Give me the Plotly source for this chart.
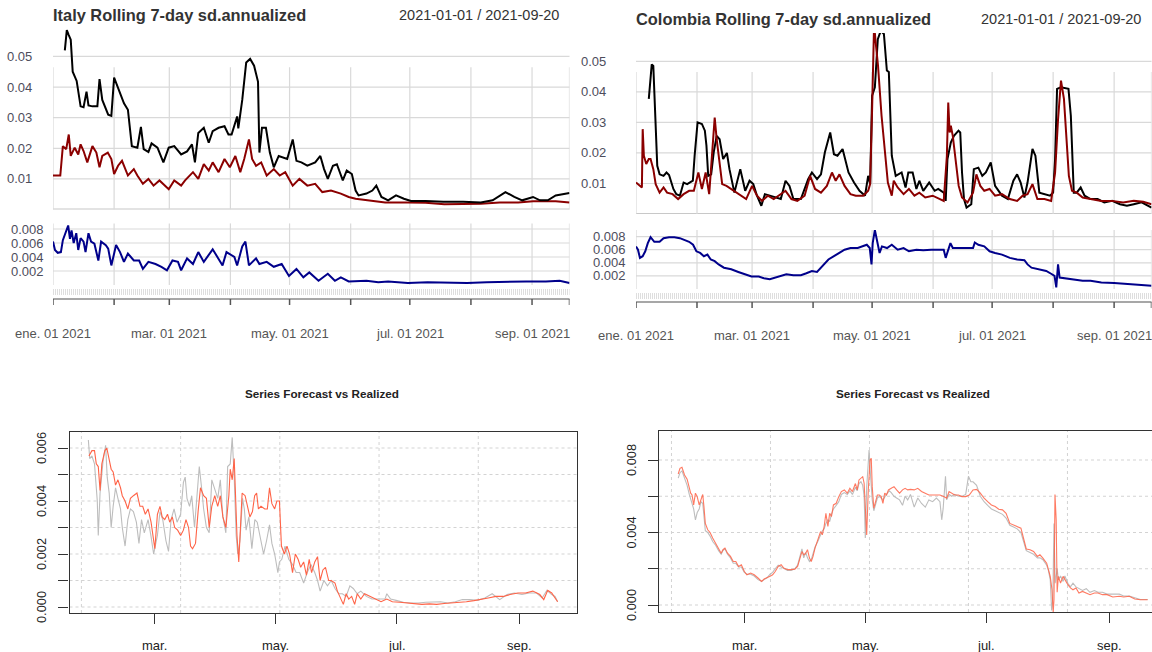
import pandas as pd
import plotly.graph_objects as go

BASE = pd.Timestamp("2021-01-01")

# ---------------- data: [day offset from 2021-01-01, value] ----------------
IT_SD_BLACK = [(6,.052),(7,.0586),(8,.057),(9,.0555),(10,.045),(12,.042),(14,.0337),(15.5,.0334),(17,.0385),(18,.034),
 (20,.0337),(22.5,.0337),(23.6,.0426),(25,.0358),(28,.031),(29.6,.0306),(31,.0431),(33,.0396),(36,.0347),(38,.0326),
 (40,.0207),(42.8,.0202),(44.6,.027),(46,.0197),(48.4,.0188),(50,.0216),(53,.0202),(56,.0154),(58.7,.0202),(61.5,.0207),
 (65,.018),(68,.019),(70.5,.0213),(72,.0154),(73.7,.025),(76.5,.0267),(79,.0218),(81,.0256),(84,.0267),(87,.0272),
 (89,.0245),(90.6,.0245),(93.4,.0304),(94,.0265),(96,.0358),(98,.048),(100,.0492),(102,.047),(104,.0417),(104.7,.0186),
 (106,.0267),(108,.0267),(110,.0186),(112,.0138),(114.5,.0175),(118.8,.0165),(121.6,.0229),(123.5,.0159),(126,.0154),(129,.0143),
 (133,.0154),(135.6,.0175),(137.5,.0132),(139.4,.0100),(142,.0143),(144,.0148),(147,.0095),(149,.0127),(151.6,.0116),(153.5,.0062),
 (155,.0046),(159,.0052),(162,.0062),(164,.0078),(166.6,.0041),(170,.0030),(174,.0046),(178,.0035),(181.6,.0028),(189,.0028),
 (198,.0025),(208,.0025),(217,.0023),(223,.0030),(226.6,.0046),(229.5,.0057),(234,.0041),(238,.0030),(243.5,.0041),(247,.0030),
 (251,.0030),(255,.0046),(262,.0054)]

IT_SD_RED = [(0,.0111),(3.7,.0111),(5,.0207),(6.7,.0197),(8,.0245),(9,.0175),(11,.0202),(12.8,.018),(14,.0213),(15.5,.0191),
 (17.4,.0154),(20,.0207),(22,.0186),(23.6,.0138),(25,.0175),(27.8,.0186),(29.6,.0165),(31,.0116),(33,.0143),(35,.0159),
 (38,.0111),(41,.0132),(42.8,.0111),(45.6,.0084),(48.4,.0100),(51,.0078),(54,.0095),(58.7,.0066),(61.5,.0095),(65,.0078),
 (67,.0095),(71,.0122),(73.7,.0100),(76.5,.0148),(79,.0127),(81,.0154),(84,.0122),(87,.0165),(89.7,.0138),(92.5,.0175),
 (95,.0122),(97,.0165),(99.4,.0229),(101,.0165),(103,.0143),(105.6,.0154),(108.4,.0111),(112,.0132),(115,.0111),(117.8,.0122),
 (121.6,.0078),(125,.0100),(129,.0078),(133,.0084),(136.6,.0057),(141,.0062),(146,.0052),(150,.0041),(153.5,.0035),(161,.0030),
 (168.5,.0023),(180,.0023),(189,.0022),(198.5,.0017),(208,.0017),(217,.0019),(226.6,.0023),(236,.0023),(243.5,.0027),(255,.0027),
 (262,.0023)]

IT_SIGMA = [(0,.0062),(1,.0050),(2.4,.0046),(4,.0047),(5,.0064),(6.7,.0076),(7.7,.0085),(8.6,.0066),(9.4,.0078),(10.5,.0060),
 (11.8,.0074),(12.8,.0050),(14,.0067),(15.5,.0062),(16.5,.0047),(18,.0074),(19.3,.0062),(21,.0059),(23,.0035),(24.4,.0062),
 (26.8,.0057),(28,.0052),(29.6,.0028),(32,.0057),(34,.0047),(36,.0033),(38,.0045),(41,.0035),(43.7,.0035),(45.6,.0023),
 (48.4,.0033),(52,.0030),(55,.0026),(57.8,.0021),(60.6,.0035),(63.4,.0033),(65,.0021),(68,.0038),(71,.0030),(73.7,.0047),
 (76.5,.0033),(81,.0051),(84,.0038),(86,.0028),(88,.0047),(92,.0040),(93.4,.0028),(96,.0055),(97.6,.0062),(99.4,.0028),
 (103,.0038),(104.7,.0030),(108.4,.0033),(112,.0026),(116,.0030),(119.7,.0013),(123.5,.0023),(127,.0011),(130,.0018),(134.7,.0006),
 (139.4,.0016),(143,.0006),(146,.0011),(150,.0005),(159,.0006),(165,.0004),(170,.0005),(180,.0003),(190,.0004),(200,.0003),
 (210,.0003),(220,.0004),(230,.0005),(240,.0005),(250,.0005),(257,.0006),(262,.0003)]

CO_SD_BLACK = [(6.5,.0377),(7,.0410),(8,.0490),(8.8,.0485),(9.7,.0344),(10.8,.0158),(12,.0130),(14,.0125),(15.5,.0136),(16.8,.0128),
 (19,.0082),(20.5,.0065),(22.3,.0060),(24.2,.0103),(26,.0098),(28.9,.0109),(29.8,.0191),(31.3,.0300),(33.5,.0295),(35,.0273),
 (35.8,.0224),(36.7,.0125),(38.2,.0130),(39.5,.0202),(41,.0256),(42.5,.0245),(44.3,.0180),(46.2,.0200),(47.5,.0147),(50,.0070),
 (53,.0147),(55.5,.0076),(57.7,.0109),(59.6,.0098),(61.5,.0060),(63.7,.0027),(65.5,.0065),(68,.0060),(70.8,.0054),(73.6,.0049),
 (76,.0109),(78,.0092),(80,.0049),(83.8,.0049),(87.5,.0114),(89.4,.0136),(92,.0114),(94,.0130),(96,.0202),(98.7,.0267),
 (100.6,.0196),(102.4,.0191),(105,.0213),(108,.0136),(110.8,.0103),(113.6,.0076),(116.4,.0060),(118,.0125),(119,.0098),(120,.0388),
 (121.4,.0415),(122.9,.0573),(124.4,.0600),(126,.0590),(127.5,.0470),(128.5,.0465),(130,.0191),(132,.0125),(135,.0136),(137,.0087),
 (138.4,.0136),(140.6,.0136),(142.5,.0082),(144,.0109),(146,.0076),(149,.0103),(151.8,.0076),(153.6,.0082),(156.4,.0070),(157.4,.0043),
 (158.3,.0180),(160,.0234),(161.6,.0256),(163.9,.0273),(164.8,.0267),(165.7,.0136),(166.7,.0049),(168,.0021),(170.4,.0032),(171.7,.0147),
 (174,.0152),(176,.0125),(177.8,.0136),(180.3,.0169),(182.5,.0092),(186,.0060),(189,.0049),(191.8,.0109),(193.7,.0130),(195.5,.0103),
 (197.4,.0054),(199,.0103),(201.5,.0213),(203,.0191),(205,.0070),(207.6,.0065),(210.4,.0060),(212,.0070),(213,.0180),(214,.0410),
 (216,.0415),(219.8,.0410),(221,.0322),(222.5,.0070),(224,.0070),(226,.0087),(228,.0060),(231,.0049),(234.6,.0049),(238,.0038),
 (242,.0043),(246,.0032),(249.5,.0027),(253,.0032),(257,.0038),(262,.0021)]

CO_SD_RED = [(0,.0103),(2,.0092),(3,.0087),(3.4,.0278),(4,.0191),(5.2,.0164),(6.5,.0180),(7.4,.0180),(8.8,.0147),(10,.0098),
 (12,.0070),(14,.0087),(15.8,.0070),(18.6,.0065),(21.4,.0049),(24.2,.0065),(27,.0076),(29.4,.0076),(31.7,.0136),(33.5,.0082),
 (35.4,.0136),(37.2,.0065),(39,.0213),(40,.0316),(41,.0245),(42.5,.0169),(43.8,.0098),(46,.0092),(48.4,.0082),(51,.0070),
 (54,.0060),(56,.0049),(59,.0092),(61.5,.0060),(64,.0043),(67,.0060),(70,.0049),(73.6,.0065),(76,.0076),(79,.0049),
 (82,.0043),(85.7,.0060),(88.5,.0125),(91,.0082),(94,.0070),(97,.0092),(99.6,.0136),(101.5,.0109),(103.4,.0130),(106,.0092),
 (109,.0065),(111.7,.0060),(115.5,.0060),(118,.0076),(119,.0098),(120,.0344),(121,.0620),(122,.0550),(123,.0486),(124.8,.0322),
 (126.6,.0190),(128,.0103),(130,.0060),(131,.0109),(133,.0087),(136,.0065),(138.7,.0082),(141.5,.0060),(144,.0070),(147,.0054),
 (150.8,.0060),(154.6,.0049),(156.4,.0043),(158,.0190),(158.7,.0365),(159.4,.0267),(160,.0289),(161,.0256),(162,.0202),(164,.0092),
 (165.7,.0054),(168.5,.0038),(171.3,.0070),(173,.0130),(175,.0092),(177,.0076),(179.7,.0082),(182.5,.0060),(186,.0065),(190,.0049),
 (193.7,.0043),(196.5,.0060),(199,.0065),(201.5,.0098),(204,.0049),(207.6,.0049),(211,.0043),(213,.0136),(214.5,.0310),(216,.0437),
 (217.5,.0377),(219,.0245),(220,.0125),(221.6,.0076),(224,.0070),(227,.0054),(231,.0049),(236.5,.0043),(242,.0043),(247.6,.0038),
 (253,.0043),(257.8,.0040),(262,.0032)]

CO_SIGMA = [(0,.0065),(1,.0060),(2,.00475),(3.4,.0050),(4.7,.00575),(6,.0070),(7.4,.0079),(9.3,.0072),(12,.0072),(14,.00775),
 (16.8,.0079),(19.5,.0079),(22.3,.00775),(25,.0075),(27,.0072),(29,.00675),(30.7,.00575),(32.6,.0055),(34.5,.0050),(36.3,.00525),
 (38,.0045),(40,.00425),(42,.00375),(44.7,.00325),(48.4,.0030),(52,.0026),(55.9,.00225),(58.7,.0019),(62.4,.0019),(65,.00165),
 (68,.0015),(70.8,.00175),(73.6,.0019),(76.4,.00225),(80,.0021),(83.8,.0021),(86.6,.0024),(89.4,.00275),(92,.0026),(95,.0035),
 (97.8,.0045),(100.6,.0050),(103.4,.0055),(106,.0060),(109,.00625),(112.7,.00625),(117.3,.00675),(118.8,.00625),(119.7,.00375),(120.3,.0070),
 (121.4,.0090),(122.5,.0075),(123.8,.0055),(125,.0065),(127.6,.00625),(130,.00675),(133,.0060),(136,.00625),(138.7,.00575),(142.5,.0060),
 (146,.0059),(150,.0060),(153.6,.0060),(156.4,.0060),(157.4,.00475),(158.7,.0060),(159.8,.0070),(161,.00625),(165.7,.00625),(171.3,.00625),
 (172.2,.0071),(174,.00675),(177,.0065),(179.7,.00575),(182.5,.0055),(186,.00525),(190,.00475),(193.7,.0045),(197.4,.0044),(199,.00375),
 (201,.00325),(204.8,.0030),(208.5,.00275),(211.4,.00225),(212.7,.0020),(213.6,.00025),(214.5,.00375),(215.3,.00175),(218,.00165),(221.6,.0015),
 (227,.00125),(231,.00125),(236.5,.0010),(243,.0009),(249.5,.00075),(257,.0006),(262,.0005)]

IT_FORECAST = [(25.8,.0057),(27.3,.0059),(28.6,.0059),(29.5,.0054),(30.5,.0053),(31.4,.0044),(32.3,.0054),(33.8,.0059),(34.8,.0060),(36,.0056),
 (37,.0052),(38,.0051),(39.2,.0046),(40.4,.0048),(41.7,.0045),(42.6,.0042),(44,.0040),(45.4,.0037),(46.7,.0041),(48.2,.0042),
 (50,.0043),(51.5,.0038),(52.9,.0038),(54.2,.0035),(55.6,.0037),(57.1,.0032),(58,.0027),(59,.0022),(60.3,.0035),(61.6,.0038),
 (62.7,.0034),(64,.0033),(65.4,.0035),(66.5,.0032),(67.8,.0034),(69,.0030),(70.5,.0029),(72,.0027),(73.4,.0029),(74.7,.0033),
 (76,.0030),(77,.0023),(78,.0022),(79.5,.0024),(80.8,.0036),(82,.0045),(83.6,.0042),(85,.0041),(86.4,.0030),(87.7,.0038),
 (89.2,.0042),(90.7,.0038),(92,.0042),(93.3,.0034),(94.8,.0030),(96.3,.0042),(97,.0052),(98,.0048),(99,.0056),(100.4,.0027),
 (101.3,.0017),(102.2,.0032),(103,.0043),(104.5,.0042),(105.6,.0038),(106.9,.0034),(108.2,.0036),(109.3,.0042),(110.3,.0043),(111.2,.0037),
 (112.5,.0038),(114.4,.0037),(115.7,.0037),(116.8,.0045),(118,.0039),(119.4,.0037),(120.5,.0040),(121.8,.0040),(122.8,.0023),(124.3,.0020),
 (125.6,.0023),(126.9,.0020),(128.4,.0013),(129.8,.0020),(131.2,.0018),(132.5,.0015),(134,.0017),(135.4,.0012),(136.8,.0018),(138,.0013),
 (139.6,.0017),(141,.0019),(142.3,.0010),(143.7,.0014),(145,.0015),(146.6,.0010),(147.9,.0010),(149.8,.0009),(151,.0006),(152.6,.0003),
 (154,.0001),(155.4,.0005),(156.7,.0003),(158.2,.0004),(159.7,.0001),(161,.0005),(162.8,.0003),(164.7,.0005),(167.5,.0004),(170.3,.0003),
 (173,.0002),(175.9,.0003),(178.7,.0002),(182.4,.00018),(186,.00015),(190,.00013),(193.6,.0001),(197.4,.00012),(201,.0001),(204.8,.00013),
 (208.5,.00015),(212,.00018),(216,.0002),(219.8,.00024),(223.4,.00028),(227,.00034),(230.9,.0004),(234.6,.0004),(238,.00047),(242,.00053),
 (245.8,.00053),(249.5,.0006),(253,.00047),(255,.00028),(257,.00063),(259,.00053),(260.7,.00034),(262,.0002)]

IT_REALIZED = [(25.5,.0063),(26.2,.0056),(27.3,.0057),(28.6,.0054),(30,.0040),(30.5,.0027),(31.4,.0043),(32.9,.0055),(34.2,.0061),(35,.0049),
 (36,.0043),(37,.0030),(38,.0038),(39.2,.0045),(40.4,.0041),(41.7,.0037),(42.6,.0030),(44,.0023),(45.4,.0033),(46.7,.0037),
 (48.2,.0036),(49.7,.0032),(51,.0024),(52.3,.0033),(53.7,.0028),(55.6,.0033),(57,.0027),(58.4,.0020),(60.3,.0027),(61.6,.0036),
 (63,.0033),(64.6,.0025),(65.9,.0021),(67.2,.0033),(68.7,.0037),(70.2,.0032),(72,.0035),(73.4,.0047),(74.3,.0049),(75.2,.0041),
 (76.5,.0038),(77.6,.0042),(79,.0030),(80.3,.0043),(81.4,.0053),(82.7,.0044),(83.6,.0037),(85,.0030),(86.4,.0028),(87.7,.0048),
 (89.2,.0044),(90.7,.0041),(92,.0048),(93.3,.0034),(94.8,.0028),(95.7,.0053),(97,.0054),(98,.0064),(99,.0049),(100,.0027),
 (100.8,.0020),(101.9,.0025),(103.2,.0041),(104.1,.0037),(105,.0029),(106.4,.0034),(107.9,.0022),(109.4,.0033),(110.6,.0032),(112.5,.0025),
 (113.8,.0020),(115.3,.0025),(116.8,.0031),(118,.0024),(119.4,.0020),(121,.0013),(121.8,.0017),(123,.0018),(124.6,.0023),(126.5,.0018),
 (128.4,.0016),(130.2,.0013),(132,.0013),(134,.0009),(135.8,.0013),(137.7,.0016),(139.6,.0013),(141,.0010),(142.3,.0006),(144.2,.0010),
 (146,.0008),(147.9,.0010),(149.8,.0007),(151.7,.0005),(153.5,.0005),(155.4,.0004),(157.3,.0008),(159,.0007),(161,.0005),(162.8,.0006),
 (165.6,.0004),(168.4,.0003),(171.2,.0003),(175,.0003),(175.9,.0005),(177.8,.0003),(180.6,.00025),(184.3,.00018),(188,.00015),(191.8,.00015),
 (195.5,.00018),(199.2,.00018),(203,.0002),(206.7,.00015),(210.4,.0002),(214,.00028),(217.8,.00028),(221.6,.00025),(225.3,.00034),(229,.0005),
 (232.8,.00028),(236.5,.00047),(240.2,.00053),(244,.00047),(247.7,.00053),(251.4,.00053),(254.2,.00034),(256.6,.00063),(259,.00047),(260.7,.0004),
 (262,.0002)]

CO_FORECAST = [(25.4,.00723),(26.3,.00754),(27.3,.0076),(28.6,.00717),(29.9,.00694),(31,.00635),(31.7,.00617),(32.4,.00607),(33.2,.00552),(34.1,.00617),
 (35,.00598),(36,.00552),(36.9,.0058),(37.8,.0061),(38.4,.00543),(39.1,.0045),(40.3,.00415),(41.5,.0040),(42.8,.0037),(44.3,.0034),
 (45.8,.0031),(47.1,.00286),(48,.00305),(49,.00314),(50.3,.00286),(51.8,.00268),(53.2,.0024),(54.5,.0024),(55.9,.00213),(57.3,.00222),
 (58.8,.00185),(60.1,.00167),(62,.00176),(63.8,.00167),(65.7,.00149),(67.5,.0013),(68.8,.00143),(70.3,.00149),(71.8,.00158),(73.1,.00167),
 (74.4,.00185),(75.9,.00213),(77.4,.00222),(78.7,.00204),(80.6,.00195),(82.4,.00195),(84.3,.00198),(85.7,.00213),(87,.00268),(87.9,.00295),
 (88.8,.00277),(89.8,.00286),(90.7,.00305),(91.7,.00259),(92.6,.0024),(93.5,.00268),(94.5,.00314),(95.9,.0036),(97.3,.00405),(98.2,.00387),
 (99.1,.00433),(100,.00506),(101,.00433),(101.9,.00506),(102.8,.00488),(103.8,.00552),(105.2,.00561),(106.5,.00598),(107.8,.00626),(109.3,.00635),
 (110.8,.00617),(112.1,.00644),(113.4,.00626),(114.9,.0067),(115.8,.00635),(116.7,.0069),(117.7,.00699),(118.6,.00708),(119.3,.00672),(120.1,.0047),
 (120.6,.00387),(121.4,.00635),(122.3,.0080),(122.9,.0081),(123.4,.00653),(124.2,.00534),(125.1,.0058),(126,.00607),(127,.00607),(127.9,.00598),
 (128.8,.00561),(129.7,.00617),(130.6,.00607),(131.6,.00635),(133,.00644),(134.4,.00653),(135.7,.00635),(137.2,.00617),(138.7,.00635),(140,.00644),
 (141.3,.00635),(142.7,.00638),(144.6,.00635),(146.4,.00644),(148.3,.00626),(150.2,.00617),(152,.00607),(153.9,.00607),(155.8,.00607),(157.6,.00607),
 (159.5,.00598),(161,.00589),(162.2,.00626),(163.5,.00617),(165,.00607),(166.9,.00607),(168.7,.00598),(170.6,.00598),(172.4,.00607),(174.3,.00635),
 (176.1,.00638),(178,.00617),(179.9,.00589),(181.7,.0057),(183.6,.00552),(185.5,.00543),(187.3,.00528),(189.2,.00525),(191,.00506),(192.9,.0045),
 (194.8,.00442),(196.6,.00433),(198.5,.00424),(200,.0036),(201.2,.00309),(203.1,.00305),(204.9,.00295),(206.8,.00268),(208.1,.00277),(209.6,.00259),
 (211.5,.00231),(212.4,.00195),(213.3,.00158),(214.2,.00084),(214.8,-.0004),(215.2,.0003),(215.7,.0061),(216.3,.0047),(216.8,.0007),(217.4,.00158),
 (218.5,.00121),(219.8,.00158),(220.7,.0014),(222.2,.00112),(223.5,.00094),(224.8,.00084),(226.3,.00094),(227.8,.00066),(229.6,.00075),(231.5,.00066),
 (233.4,.00057),(235.6,.00066),(237.4,.00066),(239.7,.00057),(242,.00057),(244.9,.00044),(248.2,.00048),(250.4,.00044),(253.2,.00048),(256,.00033),
 (258.8,.00029),(262.5,.00029)]

CO_REALIZED = [(25.4,.0070),(26.3,.0073),(27.3,.0074),(28.6,.0070),(29.9,.0066),(31,.0061),(32,.0057),(33.2,.0053),(34.1,.0047),(35,.0051),
 (36,.0053),(36.9,.0057),(37.8,.0056),(38.4,.0050),(39.1,.0041),(40.3,.0040),(41.5,.0038),(42.8,.0035),(44.3,.0033),(45.8,.0030),
 (47.1,.0028),(48,.0030),(49,.0031),(50.3,.0028),(51.8,.0026),(53.2,.0023),(54.5,.0023),(55.9,.0021),(57.3,.0021),(58.8,.0018),
 (60.1,.0017),(62,.0017),(63.8,.0016),(65.7,.0014),(67.5,.0013),(68.8,.0014),(70.3,.0015),(71.8,.0017),(73.1,.0018),(74.4,.0020),
 (75.9,.0022),(77.4,.0021),(78.7,.0020),(80.6,.0019),(82.4,.0019),(84.3,.0020),(85.7,.0022),(87,.0028),(87.9,.0031),(88.8,.0026),
 (89.8,.0029),(90.7,.0026),(91.7,.0024),(92.6,.0025),(93.5,.0029),(94.5,.0032),(95.9,.0035),(97.3,.0039),(98.2,.0041),(99.1,.0042),
 (100,.0045),(101,.0047),(101.9,.0046),(102.8,.0050),(103.8,.0053),(105.2,.0055),(106.5,.0057),(107.8,.0061),(109.3,.0062),(110.8,.0061),
 (112.1,.0063),(113.4,.0061),(114.9,.0065),(115.8,.0063),(116.7,.0067),(117.7,.0068),(118.6,.0066),(119.3,.0060),(119.9,.0037),(120.6,.0065),
 (121.4,.0078),(121.8,.00855),(122.5,.0072),(123.4,.0058),(124.2,.0052),(125.1,.0055),(126,.0059),(127,.0060),(128.8,.0058),(130.6,.0061),
 (132,.0063),(133,.0062),(134.4,.0060),(135.7,.0059),(137.2,.0058),(138.7,.0055),(140,.0060),(141.3,.0058),(142.7,.0061),(144.6,.0054),
 (146.4,.0059),(148.3,.0056),(150.2,.0054),(152,.0058),(153.9,.0057),(155.8,.0059),(157.6,.0057),(158.5,.0047),(159.2,.0053),(160.4,.0071),
 (161,.0058),(162.2,.0061),(163.5,.0060),(165,.0061),(166.9,.0060),(168.7,.0060),(170.6,.0061),(172,.0071),(173.2,.0068),(174.3,.0068),
 (176.1,.0066),(178,.0060),(179.9,.0057),(181.7,.0055),(183.6,.0053),(185.5,.0052),(187.3,.0051),(189.2,.0050),(191,.0048),(192.9,.0044),
 (194.8,.0043),(196.6,.0042),(198.5,.0040),(200,.0034),(201.2,.0030),(203.1,.0029),(204.9,.0028),(206.8,.0026),(208.1,.0026),(209.6,.0025),
 (211.5,.0022),(212.4,.0019),(213.3,.0014),(214,-.0003),(214.6,.0003),(215.2,.0045),(215.8,.0012),(216.8,.0020),(217.4,.0014),(218.5,.0016),
 (219.8,.0013),(220.7,.0016),(222.2,.0012),(223.5,.0010),(224.8,.0012),(226.3,.0010),(227.8,.0009),(229.6,.0008),(231.5,.0009),(233.4,.0007),
 (235.6,.0008),(237.4,.0007),(239.7,.0007),(242,.0006),(244.9,.0006),(248.2,.0006),(250.4,.0005),(253.2,.0005),(256,.0004),(258.8,.0003),
 (262.5,.0003)]

TOP_YTICKS_MAIN = [0.01, 0.02, 0.03, 0.04, 0.05]
TOP_YTICKS_SUB = [0.002, 0.004, 0.006, 0.008]
TOP_XLABELS = ["ene. 01 2021", "mar. 01 2021", "may. 01 2021", "jul. 01 2021", "sep. 01 2021"]
TOP_XLABEL_DATES = ["2021-01-01", "2021-03-01", "2021-05-01", "2021-07-01", "2021-09-01"]
MONTH_STARTS = ["2021-01-01", "2021-02-01", "2021-03-01", "2021-04-01", "2021-05-01", "2021-06-01",
                "2021-07-01", "2021-08-01", "2021-09-01", "2021-09-20"]
BOT_XLABELS = ["mar.", "may.", "jul.", "sep."]
BOT_XTICK_DATES = ["2021-03-01", "2021-05-01", "2021-07-01", "2021-09-01"]
BOT_VGRID_DATES = ["2021-01-23", "2021-03-14", "2021-05-03", "2021-06-22", "2021-08-11"]
IT_BOT_YTICKS = [0.000, 0.001, 0.002, 0.003, 0.004, 0.005, 0.006]
IT_BOT_YLABELS = [0.000, 0.002, 0.004, 0.006]
CO_BOT_YTICKS = [0.000, 0.002, 0.004, 0.006, 0.008]
CO_BOT_YLABELS = [0.000, 0.004, 0.008]

# ---------------- helpers ----------------
W, H = 1152, 652
FONT = "Liberation Sans, Arial, sans-serif"


def px(x):
    return x / W


def py(y):
    return 1 - y / H


def dt(d):
    return BASE + pd.Timedelta(days=d)


def split(pairs):
    days = [p[0] for p in pairs]
    vals = [p[1] for p in pairs]
    return BASE + pd.to_timedelta(days, unit="D"), vals


fig = go.Figure()


def add_line(pairs, color, width, xa, ya, opacity=1.0):
    x, y = split(pairs)
    fig.add_trace(go.Scatter(x=x, y=y, mode="lines", line=dict(color=color, width=width),
                             xaxis=xa, yaxis=ya, opacity=opacity, hoverinfo="skip"))


# top panels
add_line(IT_SD_RED, "#8b0000", 2, "x", "y")
add_line(IT_SD_BLACK, "#000000", 2, "x", "y")
add_line(IT_SIGMA, "#00008b", 2, "x2", "y2")
add_line(CO_SD_BLACK, "#000000", 2, "x3", "y3")
add_line(CO_SD_RED, "#8b0000", 2, "x3", "y3")
add_line(CO_SIGMA, "#00008b", 2, "x4", "y4")
# bottom panels
add_line(IT_REALIZED, "#bdbdbd", 1.1, "x5", "y5")
add_line(IT_FORECAST, "#ff6347", 1.1, "x5", "y5")
add_line(CO_REALIZED, "#bdbdbd", 1.1, "x6", "y6")
add_line(CO_FORECAST, "#ff6347", 1.1, "x6", "y6", opacity=0.85)


def hid(domain, rng, anchor, typ=None):
    d = dict(domain=domain, range=rng, showgrid=False, zeroline=False, showticklabels=False,
             showline=False, ticks="", anchor=anchor, fixedrange=True)
    if typ:
        d["type"] = typ
    return d


TOPR = [dt(0), dt(262)]
layout = dict(
    width=W, height=H, margin=dict(l=0, r=0, t=0, b=0), paper_bgcolor="white",
    plot_bgcolor="rgba(0,0,0,0)", showlegend=False,
    xaxis=hid([px(53), px(569.5)], TOPR, "y", "date"),
    yaxis=hid([py(209.5), py(28)], [0, 0.0593], "x"),
    xaxis2=hid([px(53), px(569.5)], TOPR, "y2", "date"),
    yaxis2=hid([py(285), py(223.4)], [0, 0.0088], "x2"),
    xaxis3=hid([px(636), px(1151.5)], TOPR, "y3", "date"),
    yaxis3=hid([py(214), py(33)], [0, 0.0593], "x3"),
    xaxis4=hid([px(636), px(1151.5)], TOPR, "y4", "date"),
    yaxis4=hid([py(289), py(230)], [0, 0.009], "x4"),
)

axline = dict(showline=True, linecolor="#333333", linewidth=1.3, ticks="outside", ticklen=10,
              tickwidth=1.2, tickcolor="#333333", showticklabels=False, showgrid=False,
              zeroline=False, fixedrange=True)
layout["xaxis5"] = dict(domain=[px(69.5), px(576.5)], range=[dt(16.0), dt(271.5)], type="date",
                        anchor="y5", tickvals=BOT_XTICK_DATES, mirror=True, **axline)
layout["yaxis5"] = dict(domain=[py(613), py(432)], range=[-0.000226, 0.006604], anchor="x5",
                        tickvals=IT_BOT_YTICKS, mirror=True, **axline)
layout["xaxis6"] = dict(domain=[px(659), 1.0], range=[dt(15.7), dt(264.7)], type="date",
                        anchor="y6", tickvals=BOT_XTICK_DATES, mirror=True, **axline)
layout["yaxis6"] = dict(domain=[py(612), py(431)], range=[-0.000386, 0.0096], anchor="x6",
                        tickvals=CO_BOT_YTICKS, mirror=False, **axline)

shapes = []
annots = []
GRID = "#d9d9d9"
TICKC = "#4d4d5c"


def hline(xdom, yref, v, color=GRID, width=1.2, dash="solid"):
    shapes.append(dict(type="line", xref=xdom, x0=0, x1=1, yref=yref, y0=v, y1=v,
                       line=dict(color=color, width=width, dash=dash), layer="below"))


def ann(text, x, y, xref="paper", yref="paper", xanchor="center", size=13, color=TICKC,
        bold=False, angle=0):
    annots.append(dict(text=f"<b>{text}</b>" if bold else text, x=x, y=y, xref=xref, yref=yref,
                       xanchor=xanchor, yanchor="middle", showarrow=False, textangle=angle,
                       font=dict(family=FONT, size=size, color=color)))


def top_panel(xm, ym, xs, ys, vtop, lab_main_x, lab_sub_x, band_y, axis_y, xlab_y,
              title, title_x, title_y, range_x):
    # main panel grid
    for v in TOP_YTICKS_MAIN:
        hline(f"{xm} domain", ym, v)
        ann(f"{v:.2f}", px(lab_main_x), v, yref=ym, xanchor="right")
    hline(f"{xm} domain", ym, 0, color="#c8c8c8", width=2)
    for d in MONTH_STARTS:
        shapes.append(dict(type="line", xref=xm, x0=d, x1=d, yref=ym, y0=0, y1=vtop,
                           line=dict(color=GRID, width=1.2), layer="below"))
    # sub panel grid
    for v in TOP_YTICKS_SUB:
        hline(f"{xs} domain", ys, v)
        ann(f"{v:.3f}", px(lab_sub_x), v, yref=ys, xanchor="right")
    for d in MONTH_STARTS:
        shapes.append(dict(type="line", xref=xs, x0=d, x1=d, yref=f"{ys} domain", y0=0, y1=1,
                           line=dict(color=GRID, width=1.2), layer="below"))
    # x axis: minor-tick band, axis line, major ticks
    shapes.append(dict(type="line", xref=f"{xs} domain", x0=0, x1=1, yref="paper",
                       y0=py(band_y), y1=py(band_y),
                       line=dict(color="#dedede", width=6, dash="1px,1px"), layer="below"))
    shapes.append(dict(type="line", xref=f"{xs} domain", x0=0, x1=1, yref="paper",
                       y0=py(axis_y), y1=py(axis_y), line=dict(color="#8a8a8a", width=1.6)))
    for d in MONTH_STARTS:
        shapes.append(dict(type="line", xref=xs, x0=d, x1=d, yref="paper", y0=py(axis_y),
                           y1=py(axis_y + 6), line=dict(color="#555555", width=1.5)))
    for lab, d in zip(TOP_XLABELS, TOP_XLABEL_DATES):
        ann(lab, d, py(xlab_y), xref=xs, size=13, color="#555555")
    ann(title, px(title_x), py(title_y), xanchor="left", size=16.4, color="#333333", bold=True)
    ann("2021-01-01 / 2021-09-20", px(range_x), py(title_y), xanchor="right", size=14.5,
        color="#333333")


top_panel("x", "y", "x2", "y2", 0.0465, 34, 46, 292, 299, 333,
          "Italy Rolling 7-day sd.annualized", 51, 15, 561)
top_panel("x3", "y3", "x4", "y4", 0.0465, 608, 628, 296, 302, 335,
          "Colombia Rolling 7-day sd.annualized", 634, 19, 1143)


def bottom_panel(xa, ya, yticks, ylabels, fmt_x, title_cx):
    for v in yticks:
        hline(f"{xa} domain", ya, v, color="#d3d3d3", width=1, dash="dot")
    for d in BOT_VGRID_DATES:
        shapes.append(dict(type="line", xref=xa, x0=d, x1=d, yref=f"{ya} domain", y0=0, y1=1,
                           line=dict(color="#d3d3d3", width=1, dash="dot"), layer="below"))
    for v in ylabels:
        ann(f"{v:.3f}", px(fmt_x), v, yref=ya, size=12.8, color="#222222", angle=-90)
    for lab, d in zip(BOT_XLABELS, BOT_XTICK_DATES):
        ann(lab, d, py(645), xref=xa, size=13, color="#222222")
    ann("Series Forecast vs Realized", px(title_cx), py(393), size=11.7, color="#222222", bold=True)


bottom_panel("x5", "y5", IT_BOT_YTICKS, IT_BOT_YLABELS, 41, 322)
bottom_panel("x6", "y6", CO_BOT_YTICKS, CO_BOT_YLABELS, 631, 913)

layout["shapes"] = shapes
layout["annotations"] = annots
fig.update_layout(**layout)
fig.write_html("out.html")
